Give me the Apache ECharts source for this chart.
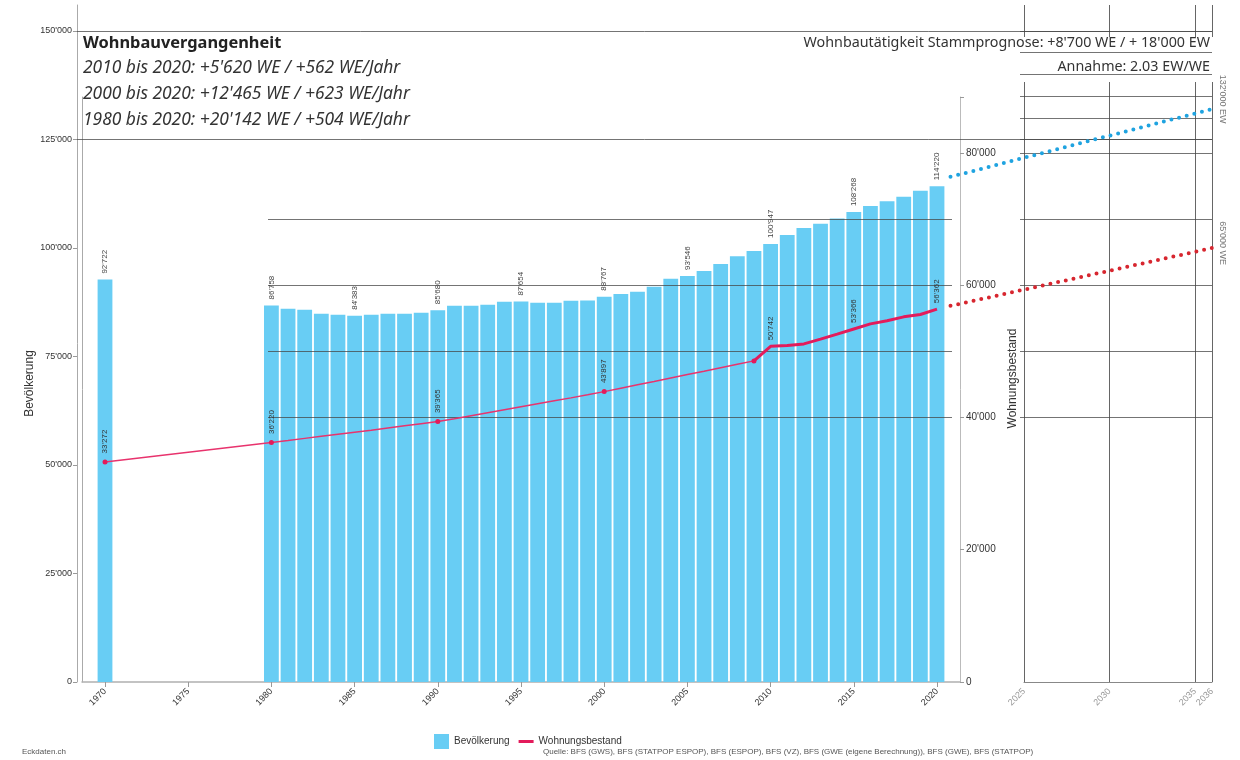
<!DOCTYPE html>
<html><head><meta charset="utf-8">
<script src="https://cdn.jsdelivr.net/npm/echarts@6/dist/echarts.min.js"></script>
<style>html,body{margin:0;padding:0;background:#fff}#c{width:1240px;height:760px}</style>
</head><body><div id="c"></div>
<script>
// ---------- data ----------
const years = ['1970','1971','1972','1973','1974','1975','1976','1977','1978','1979',
  '1980','1981','1982','1983','1984','1985','1986','1987','1988','1989',
  '1990','1991','1992','1993','1994','1995','1996','1997','1998','1999',
  '2000','2001','2002','2003','2004','2005','2006','2007','2008','2009',
  '2010','2011','2012','2013','2014','2015','2016','2017','2018','2019','2020'];
const bevoelkerung = [92722,null,null,null,null,null,null,null,null,null,
  86758,86000,85770,84850,84610,84383,84610,84840,84840,85070,
  85680,86690,86690,86920,87610,87654,87380,87380,87840,87900,
  88767,89400,89900,91100,92900,93546,94700,96300,98100,99300,
  100947,103000,104600,105600,106800,108268,109700,110800,111800,113200,114220];
// Wohnungsbestand 1970-2009 (thin line)
const wohnungenBis2009 = [33272,null,null,null,null,null,null,null,null,null,
  36220,36520,36830,37140,37450,37760,38070,38400,38720,39040,
  39365,39800,40250,40700,41150,41600,42050,42500,42950,43420,
  43897,44410,44930,45440,45960,46480,46990,47510,48030,48544];
// Wohnungsbestand 2009-2020 (thick line)
const wohnungenAb2009Jahre = ['2009','2010','2011','2012','2013','2014','2015','2016','2017','2018','2019','2020'];
const wohnungenAb2009 = [48544,50742,50860,51110,51830,52580,53366,54140,54600,55200,55550,56362];
const barLabelYears = ['1970','1980','1985','1990','1995','2000','2005','2010','2015','2020'];
const thinLabelYears = ['1970','1980','1990','2000'];
const thinDotYears = ['1970','1980','1990','2000','2009'];
const thickLabelYears = ['2010','2015','2020'];
const prognoseJahre = [2020.7, 2036];
const prognoseBev = [116400, 132000];
const prognoseWE = [56860, 65600];
const prognoseLabels = ["132'000 EW", "65'000 WE"];
const titleLines = ["2010 bis 2020: +5'620 WE / +562 WE/Jahr",
  "2000 bis 2020: +12'465 WE / +623 WE/Jahr",
  "1980 bis 2020: +20'142 WE / +504 WE/Jahr"];

// ---------- layout helpers ----------
const H = 760, W = 1240, Y0 = 682;
const POP_PX = 651 / 150000;
const WE_PX = 132.3 / 20000;
const yP = v => Y0 - v * POP_PX;
const yW = v => Y0 - v * WE_PX;
const fmt = v => String(Math.round(v)).replace(/\B(?=(\d{3})+(?!\d))/g, "'");
const gridCol = 'rgba(70,70,70,0.75)';
const AX = 'Liberation Sans';
const TT = 'Noto Sans';
const barColor = '#68cdf4';
const pinkThin = '#e8336d';
const pinkThick = '#e31b5b';

const band = 16.64;
const leftA = 105 - band / 2;
const rightA = W - (leftA + band * years.length);

const hiddenX = g => ({type: 'value', gridIndex: g, show: false, min: 0, max: 1});
const splitY = (g, min, max, interval) => ({
  type: 'value', gridIndex: g, min, max, interval, z: 3,
  axisLine: {show: false}, axisTick: {show: false}, axisLabel: {show: false},
  splitLine: {show: true, lineStyle: {color: gridCol, width: 1}}
});
const endLabel = (text, off) => ({show: true, formatter: text, position: 'right', rotate: -90, align: 'center',
  verticalAlign: 'middle', distance: 10, offset: [off, 0], fontSize: 9, color: '#777'});

const chart = echarts.init(document.getElementById('c'), null, {renderer: 'canvas'});
chart.setOption({
  animation: false,
  backgroundColor: '#fff',
  textStyle: {fontFamily: AX},
  title: [
    {text: 'Wohnbauvergangenheit', left: 83, top: 35, padding: 0,
      textStyle: {fontFamily: TT, fontSize: 16.4, fontWeight: 'bold', color: '#222'}},
    {text: titleLines[0], left: 83, top: 60, padding: 0,
      textStyle: {fontFamily: TT, fontSize: 17.4, fontStyle: 'italic', fontWeight: 'normal', color: '#333'}},
    {text: titleLines[1], left: 83, top: 86, padding: 0,
      textStyle: {fontFamily: TT, fontSize: 17.4, fontStyle: 'italic', fontWeight: 'normal', color: '#333'}},
    {text: titleLines[2], left: 83, top: 112, padding: 0,
      textStyle: {fontFamily: TT, fontSize: 17.4, fontStyle: 'italic', fontWeight: 'normal', color: '#333'}},
    {text: "Wohnbautätigkeit Stammprognose: +8'700 WE / + 18'000 EW", right: 30, top: 36, padding: 0,
      textStyle: {fontFamily: TT, fontSize: 14.3, fontWeight: 'normal', color: '#333'}},
    {text: 'Annahme: 2.03 EW/WE', right: 30, top: 60, padding: 0,
      textStyle: {fontFamily: TT, fontSize: 14.3, fontWeight: 'normal', color: '#333'}},
    {text: 'Eckdaten.ch', left: 22, top: 748, padding: 0,
      textStyle: {fontFamily: AX, fontSize: 8, fontWeight: 'normal', color: '#555'}},
    {text: 'Quelle: BFS (GWS), BFS (STATPOP ESPOP), BFS (ESPOP), BFS (VZ), BFS (GWE (eigene Berechnung)), BFS (GWE), BFS (STATPOP)',
      left: 543, top: 748, padding: 0,
      textStyle: {fontFamily: AX, fontSize: 8, fontWeight: 'normal', color: '#555'}}
  ],
  legend: {
    left: 429, top: 729, itemWidth: 15, itemHeight: 15, itemGap: 9,
    textStyle: {fontSize: 10, color: '#333', fontFamily: AX},
    data: [{name: 'Bevölkerung', icon: 'rect'},
      {name: 'Wohnungsbestand', icon: 'path://M0,0H15V3H0Z'}]
  },
  grid: [
    {left: leftA, right: rightA, top: 31, bottom: H - Y0},              // 0 main
    {left: 82, right: W - 960, top: 97, bottom: H - Y0},                // 1 frame
    {left: 1024, right: 28, top: 82, bottom: H - Y0},                   // 2 forecast panel
    {left: 1024, right: 28, top: 5, bottom: H - 37},                    // 3 forecast top stubs
    {left: 268, right: W - 952, top: yW(70000), bottom: H - yW(40000)}, // 4 WE lines main
    {left: 1020, right: 28, top: yW(80000), bottom: H - yW(40000)},     // 5 WE lines panel
    {left: 77, right: 28, top: 31, bottom: H - yP(125000)},             // 6 pop lines across
    {left: 1020, right: 28, top: 31, bottom: H - yP(125000)},           // 7 pop lines panel
    {left: 77, right: W - 78, top: 5, bottom: H - Y0},                  // 8 outer left line
    {left: 950.5, right: 28, top: 31, bottom: H - Y0}                   // 9 forecast lines
  ],
  xAxis: [
    {type: 'category', gridIndex: 0, data: years,
      axisLine: {show: false},
      axisTick: {show: true, interval: 4, alignWithLabel: true, length: 5, lineStyle: {color: '#999'}},
      axisLabel: {interval: 4, rotate: 45, fontSize: 9, color: '#333', margin: 8},
      splitLine: {show: false}},
    {type: 'value', gridIndex: 1, min: 0, max: 1,
      axisLine: {show: true, lineStyle: {color: '#b0b0b0', width: 1.5}},
      axisTick: {show: false}, axisLabel: {show: false}, splitLine: {show: false}},
    {type: 'value', gridIndex: 2, min: 2025, max: 2036, interval: 5,
      axisLine: {show: true, lineStyle: {color: '#888'}},
      axisTick: {show: false},
      axisLabel: {rotate: 45, fontSize: 9, color: '#999', margin: 8, showMinLabel: true, showMaxLabel: true,
        formatter: v => String(v)},
      splitLine: {show: true, showMinLine: true, showMaxLine: true, lineStyle: {color: '#666'}}},
    {type: 'value', gridIndex: 3, min: 2025, max: 2036, interval: 5,
      axisLine: {show: false}, axisTick: {show: false}, axisLabel: {show: false},
      splitLine: {show: true, showMinLine: true, showMaxLine: true, lineStyle: {color: '#666'}}},
    hiddenX(4), hiddenX(5), hiddenX(6), hiddenX(7), hiddenX(8),
    {type: 'value', gridIndex: 9, show: false, min: prognoseJahre[0], max: prognoseJahre[1]}
  ],
  yAxis: [
    {type: 'value', gridIndex: 0, min: 0, max: 150000, interval: 25000, position: 'left',
      offset: leftA - 77,
      axisLine: {show: false},
      axisTick: {show: true, length: 4, lineStyle: {color: '#999'}},
      axisLabel: {fontSize: 9, color: '#333', margin: 5, formatter: fmt},
      splitLine: {show: false}},
    {type: 'value', gridIndex: 0, min: 0, max: (Y0 - 31) / WE_PX, show: false},
    {type: 'value', gridIndex: 1, min: 0, max: 1, position: 'left',
      axisLine: {show: true, lineStyle: {color: '#aaa'}},
      axisTick: {show: false}, axisLabel: {show: false}, splitLine: {show: false},
      name: 'Bevölkerung', nameLocation: 'middle', nameGap: 46, nameRotate: 90,
      nameTextStyle: {fontSize: 12, color: '#333', padding: [0, 0, 0, 12]}},
    {type: 'value', gridIndex: 1, min: 0, max: (Y0 - 97) / WE_PX, interval: 20000, position: 'right',
      axisLine: {show: true, lineStyle: {color: '#bbb'}},
      axisTick: {show: true, length: 4, lineStyle: {color: '#999'}},
      axisLabel: {fontSize: 10, color: '#333', margin: 6, formatter: v => (v % 20000 === 0 ? fmt(v) : '')},
      splitLine: {show: false},
      name: 'Wohnungsbestand', nameLocation: 'middle', nameGap: 37, nameRotate: 90,
      nameTextStyle: {fontSize: 12, color: '#333', padding: [0, 0, 0, 22]}},
    {type: 'value', gridIndex: 2, min: 0, max: 1, show: false},
    {type: 'value', gridIndex: 2, min: 0, max: 1, show: false},
    {type: 'value', gridIndex: 3, min: 0, max: 1, show: false},
    splitY(4, 40000, 70000, 10000),
    splitY(5, 40000, 80000, 10000),
    splitY(6, 125000, 150000, 25000),
    splitY(7, 125000, 150000, 5000),
    {type: 'value', gridIndex: 8, min: 0, max: 1, position: 'left',
      axisLine: {show: true, lineStyle: {color: '#aaa'}},
      axisTick: {show: false}, axisLabel: {show: false}, splitLine: {show: false}},
    {type: 'value', gridIndex: 9, min: 0, max: 150000, show: false},
    {type: 'value', gridIndex: 9, min: 0, max: (Y0 - 31) / WE_PX, show: false}
  ],
  series: [
    {name: 'Bevölkerung', type: 'bar', xAxisIndex: 0, yAxisIndex: 0, barWidth: 14.8, z: 2,
      itemStyle: {color: barColor},
      label: {show: false, rotate: 90, position: 'top', align: 'left', verticalAlign: 'middle',
        distance: 6, fontSize: 8, color: '#444', formatter: p => fmt(p.value)},
      data: bevoelkerung.map((v, i) => (barLabelYears.includes(years[i]) ? {value: v, label: {show: true}} : v))},
    {name: 'Wohnungsbestand', type: 'line', xAxisIndex: 0, yAxisIndex: 1, z: 6,
      symbol: 'circle', symbolSize: 0, showAllSymbol: true,
      lineStyle: {color: pinkThick, width: 3}, itemStyle: {color: pinkThick},
      label: {show: false, rotate: 90, position: 'top', align: 'left', verticalAlign: 'middle',
        distance: 6, fontSize: 8, color: '#333', formatter: p => fmt(p.value)},
      data: years.map(y => {
        const k = wohnungenAb2009Jahre.indexOf(y);
        if (k < 0) return null;
        const v = wohnungenAb2009[k];
        return thickLabelYears.includes(y) ? {value: v, label: {show: true}} : v;
      })},
    {name: 'Wohnungsbestand', type: 'line', xAxisIndex: 0, yAxisIndex: 1, z: 6,
      connectNulls: true, showAllSymbol: true, symbol: 'circle',
      symbolSize: (v, p) => (thinDotYears.includes(years[p.dataIndex]) ? 5 : 0),
      lineStyle: {color: pinkThin, width: 1.5}, itemStyle: {color: pinkThick},
      label: {show: false, rotate: 90, position: 'top', align: 'left', verticalAlign: 'middle',
        distance: 6, fontSize: 8, color: '#333', formatter: p => fmt(p.value)},
      data: years.map((y, i) => {
        if (i >= wohnungenBis2009.length) return null;
        const v = wohnungenBis2009[i];
        return thinLabelYears.includes(y) ? {value: v, label: {show: true}} : v;
      })},
    {type: 'line', xAxisIndex: 9, yAxisIndex: 12, z: 7, clip: false, symbol: 'none', silent: true,
      lineStyle: {color: '#1fa3e0', width: 4, type: [0, 7.87], cap: 'round'},
      label: {show: false},
      data: prognoseJahre.map((x, i) => (i === prognoseJahre.length - 1 ?
        {value: [x, prognoseBev[i]], symbol: 'circle', symbolSize: 0.1, label: endLabel(prognoseLabels[0], -10)} :
        [x, prognoseBev[i]]))},
    {type: 'line', xAxisIndex: 9, yAxisIndex: 13, z: 7, clip: false, symbol: 'none', silent: true,
      lineStyle: {color: '#d7262f', width: 4, type: [0, 7.87], cap: 'round'},
      label: {show: false},
      data: prognoseJahre.map((x, i) => (i === prognoseJahre.length - 1 ?
        {value: [x, prognoseWE[i]], symbol: 'circle', symbolSize: 0.1, label: endLabel(prognoseLabels[1], -5)} :
        [x, prognoseWE[i]]))}
  ]
});
</script>
</body></html>
